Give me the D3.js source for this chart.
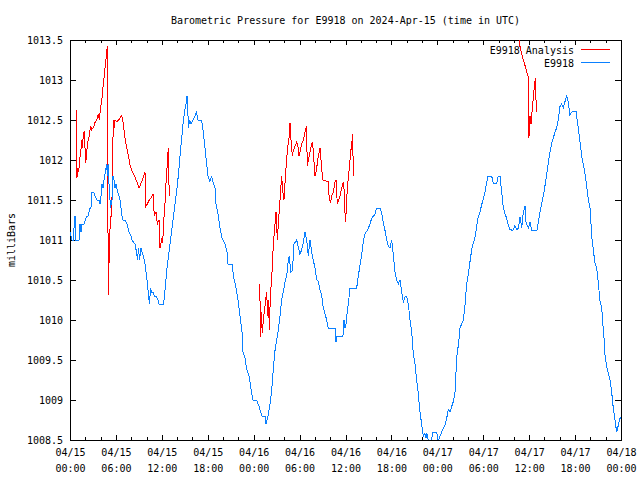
<!DOCTYPE html>
<html>
<head>
<meta charset="utf-8">
<script src="https://cdn.jsdelivr.net/npm/d3@7"></script>
<style>
  html, body { margin: 0; padding: 0; background: #fff; }
  svg { display: block; }
  text { font-family: "DejaVu Sans Mono", "Liberation Mono", monospace; font-size: 10px; fill: #000; }
</style>
</head>
<body>
<svg id="chart" width="640" height="480"></svg>
<script>
// ---------------- DATA ----------------
const chartTitle = "Barometric Pressure for E9918 on 2024-Apr-15 (time in UTC)";
const yAxisLabel = "milliBars";
const seriesNames = ["E9918 Analysis", "E9918"];
const seriesColors = ["#ff0000", "#0a80ff"];

// x: hours since 2024-04-15 00:00 UTC
const xTickHours = [0, 6, 12, 18, 24, 30, 36, 42, 48, 54, 60, 66, 72];
const xTickDates = ["04/15","04/15","04/15","04/15","04/16","04/16","04/16","04/16","04/17","04/17","04/17","04/17","04/18"];
const xTickTimes = ["00:00","06:00","12:00","18:00","00:00","06:00","12:00","18:00","00:00","06:00","12:00","18:00","00:00"];
const xMinorHours = [2,4,8,10,14,16,20,22,26,28,32,34,38,40,44,46,50,52,56,58,62,64,68,70];
const yTickValues = [1008.5, 1009, 1009.5, 1010, 1010.5, 1011, 1011.5, 1012, 1012.5, 1013, 1013.5];
const yTickLabels = ["1008.5","1009","1009.5","1010","1010.5","1011","1011.5","1012","1012.5","1013","1013.5"];

// E9918 observations
const obsHours = [0.00,0.13,0.26,0.46,0.59,0.72,0.78,1.18,1.31,1.44,1.57,1.83,2.16,2.35,2.61,2.74,2.87,3.07,3.27,3.53,3.79,3.92,4.05,4.18,4.31,4.51,4.64,4.77,4.90,4.97,5.10,5.23,5.29,5.49,5.62,5.75,5.88,6.01,6.21,6.40,6.53,6.66,6.79,6.93,7.19,7.45,7.71,7.97,8.10,8.49,8.69,8.82,8.95,9.08,9.28,9.41,9.60,9.80,10.00,10.13,10.26,10.39,10.52,10.65,10.85,11.04,11.24,11.50,11.63,12.22,12.35,12.54,12.67,12.87,13.07,13.26,13.46,13.66,13.85,14.05,14.24,14.37,14.57,14.77,14.96,15.16,15.29,15.42,15.48,15.61,15.81,16.07,16.33,16.53,16.73,17.18,17.38,17.64,17.84,18.03,18.29,18.49,18.69,18.95,19.08,19.34,19.60,19.86,20.25,20.52,20.65,21.17,21.36,21.69,21.95,22.21,22.48,22.61,22.87,23.06,23.39,23.72,23.91,24.37,24.70,25.09,25.48,25.61,25.87,26.13,26.33,26.46,26.57,26.79,27.01,27.22,27.44,27.66,27.87,28.09,28.31,28.53,28.66,28.84,29.07,29.27,29.62,29.86,30.05,30.28,30.48,30.71,30.93,31.14,31.36,31.58,31.79,32.01,32.24,32.45,32.67,32.89,33.10,33.32,33.54,33.75,34.63,34.76,34.89,35.67,35.80,35.93,36.07,36.23,36.37,36.59,37.46,37.67,37.89,38.12,38.33,38.55,38.87,39.20,39.42,39.63,39.85,40.07,40.51,40.73,40.94,41.16,41.38,41.59,41.81,42.04,42.25,42.47,42.69,42.90,43.12,43.34,43.56,43.77,44.00,44.21,44.43,44.65,44.86,45.08,45.30,45.51,45.73,45.95,46.17,46.39,46.52,46.65,46.85,47.04,47.24,47.43,47.92,48.13,48.35,48.57,48.78,49.00,49.22,49.43,49.65,49.88,50.09,50.31,50.44,50.61,50.74,50.96,51.39,51.61,51.83,52.05,52.27,52.49,52.70,52.92,53.14,53.35,53.57,53.79,54.01,54.23,54.45,54.62,55.10,55.31,55.76,55.96,56.19,56.41,56.62,56.84,57.06,57.27,57.49,57.89,58.15,58.41,58.61,58.80,59.03,59.23,59.46,59.59,59.89,60.11,60.33,60.76,61.02,61.19,61.41,61.64,61.85,62.07,62.29,62.50,62.72,62.95,63.15,63.37,63.59,63.81,64.03,64.25,64.46,64.68,64.90,65.11,65.33,65.56,66.12,66.21,66.42,66.64,66.86,67.07,67.29,67.51,67.72,67.95,68.04,68.17,68.38,68.60,68.82,69.03,69.26,69.48,69.61,69.78,69.91,70.13,70.34,70.56,70.78,70.99,71.21,71.43,71.64,71.86,71.99];
const obsPressure = [1011.1,1011.05,1011.0,1011.0,1011.3,1011.3,1011.0,1011.0,1011.2,1011.1,1011.2,1011.2,1011.3,1011.3,1011.4,1011.4,1011.6,1011.6,1011.55,1011.5,1011.5,1011.45,1011.55,1011.7,1011.65,1011.8,1011.85,1011.95,1011.8,1011.95,1011.7,1011.5,1011.4,1011.5,1011.8,1011.75,1011.65,1011.7,1011.6,1011.55,1011.5,1011.4,1011.3,1011.25,1011.25,1011.2,1011.1,1011.05,1011.0,1010.95,1010.85,1010.75,1010.9,1010.75,1010.9,1010.85,1010.8,1010.7,1010.55,1010.45,1010.3,1010.2,1010.4,1010.35,1010.35,1010.3,1010.3,1010.25,1010.2,1010.2,1010.3,1010.5,1010.65,1010.8,1010.95,1011.1,1011.25,1011.4,1011.55,1011.7,1011.9,1012.05,1012.25,1012.45,1012.6,1012.7,1012.8,1012.55,1012.4,1012.5,1012.45,1012.5,1012.55,1012.6,1012.5,1012.5,1012.38,1012.15,1011.97,1011.8,1011.73,1011.8,1011.72,1011.65,1011.45,1011.33,1011.15,1011.03,1010.95,1010.85,1010.7,1010.7,1010.55,1010.4,1010.25,1010.05,1009.85,1009.6,1009.52,1009.4,1009.3,1009.1,1009.0,1009.0,1008.92,1008.8,1008.8,1008.7,1008.8,1008.95,1009.1,1009.25,1009.4,1009.62,1009.75,1009.88,1010.05,1010.25,1010.35,1010.47,1010.55,1010.75,1010.8,1010.6,1010.62,1010.95,1011.0,1010.9,1010.82,1010.88,1010.96,1011.1,1011.0,1010.8,1011.0,1010.85,1010.75,1010.65,1010.5,1010.48,1010.38,1010.3,1010.15,1010.08,1010.0,1009.9,1009.9,1009.72,1009.8,1009.8,1010.0,1009.9,1009.95,1010.1,1010.2,1010.4,1010.4,1010.55,1010.68,1010.82,1010.98,1011.08,1011.12,1011.2,1011.27,1011.3,1011.32,1011.4,1011.4,1011.33,1011.22,1011.12,1011.0,1010.92,1010.9,1011.0,1010.82,1010.6,1010.5,1010.45,1010.5,1010.35,1010.22,1010.29,1010.29,1010.2,1010.0,1009.85,1009.58,1009.45,1009.25,1009.08,1008.85,1008.7,1008.55,1008.58,1008.52,1008.58,1008.48,1008.45,1008.5,1008.6,1008.6,1008.48,1008.55,1008.6,1008.65,1008.69,1008.77,1008.88,1008.85,1008.92,1008.98,1009.1,1009.35,1009.62,1009.67,1009.9,1010.0,1010.18,1010.45,1010.57,1010.73,1010.88,1010.96,1011.03,1011.17,1011.29,1011.35,1011.44,1011.51,1011.6,1011.72,1011.8,1011.8,1011.71,1011.71,1011.8,1011.8,1011.6,1011.4,1011.33,1011.27,1011.18,1011.13,1011.12,1011.18,1011.13,1011.15,1011.29,1011.15,1011.35,1011.42,1011.22,1011.15,1011.22,1011.12,1011.12,1011.12,1011.22,1011.35,1011.46,1011.55,1011.68,1011.82,1011.96,1012.1,1012.21,1012.27,1012.35,1012.4,1012.51,1012.67,1012.7,1012.65,1012.73,1012.8,1012.72,1012.56,1012.6,1012.61,1012.54,1012.4,1012.23,1012.05,1011.95,1011.83,1011.68,1011.52,1011.4,1011.27,1011.04,1010.88,1010.71,1010.65,1010.47,1010.23,1010.15,1009.98,1009.77,1009.56,1009.42,1009.34,1009.25,1009.1,1008.9,1008.75,1008.6,1008.68,1008.77,1008.78];

// E9918 Analysis (null = gap between runs)
const anaHours = [0.82,0.89,1.05,1.15,1.24,1.40,1.53,1.63,1.74,1.87,2.05,2.18,2.39,2.52,2.70,2.84,3.04,3.27,3.49,3.70,3.83,4.01,4.14,4.27,4.35,4.48,4.61,4.70,4.80,4.87,5.00,5.13,5.29,5.45,5.55,5.66,5.79,5.88,6.14,6.53,6.76,6.96,7.19,7.41,7.62,7.84,8.10,8.49,8.72,9.02,9.37,9.58,9.80,9.93,10.10,10.36,10.68,10.88,11.01,11.24,11.41,11.63,11.76,11.96,12.11,12.22,12.41,12.54,12.71,12.84,12.97,
  null,
  24.80,24.89,24.96,25.13,25.26,25.39,25.57,25.70,25.83,25.96,26.04,26.13,26.26,26.43,26.57,26.79,26.92,27.09,27.22,27.44,27.66,27.79,27.96,28.09,28.26,28.44,28.66,28.75,28.88,29.05,29.18,29.40,29.62,29.75,29.92,30.05,30.28,30.48,30.71,30.90,31.01,31.14,31.36,31.58,31.71,31.79,32.01,32.14,32.31,32.45,32.67,32.80,33.02,33.75,33.88,34.06,34.19,34.41,34.63,34.76,34.93,35.06,35.28,35.50,35.71,35.84,35.93,36.02,36.15,36.28,36.45,36.68,36.81,36.94,37.02,
  null,
  58.54,58.80,59.03,59.23,59.46,59.68,59.89,59.96,60.11,60.24,60.41,60.54,60.67,60.80,60.89,61.02];
const anaPressure = [1012.63,1011.77,1011.9,1011.85,1012.0,1012.08,1012.25,1012.15,1012.33,1012.35,1011.96,1012.1,1012.27,1012.3,1012.43,1012.38,1012.4,1012.47,1012.5,1012.58,1012.5,1012.66,1012.73,1012.86,1012.96,1013.05,1013.18,1013.26,1013.35,1013.42,1010.31,1010.85,1011.3,1011.3,1011.9,1012.5,1012.4,1012.5,1012.48,1012.52,1012.56,1012.46,1012.27,1012.15,1012.06,1011.94,1011.86,1011.79,1011.73,1011.65,1011.73,1011.79,1011.85,1011.42,1011.45,1011.5,1011.54,1011.58,1011.3,1011.35,1011.2,1011.25,1010.9,1011.0,1010.96,1011.2,1011.45,1011.7,1011.95,1012.15,1011.55,
  null,
  1010.45,1009.79,1010.1,1009.84,1010.0,1010.1,1010.25,1010.35,1010.05,1010.25,1009.87,1010.15,1010.4,1010.65,1010.95,1011.2,1011.35,1011.0,1011.2,1011.5,1011.8,1011.62,1011.5,1011.7,1011.95,1012.15,1012.3,1012.46,1012.25,1012.05,1012.12,1012.17,1012.22,1012.2,1012.05,1012.1,1012.2,1012.25,1012.35,1012.42,1011.92,1012.0,1012.1,1012.2,1012.22,1012.1,1011.8,1011.85,1011.95,1012.05,1012.15,1012.0,1011.75,1011.73,1011.5,1011.47,1011.55,1011.6,1011.72,1011.75,1011.45,1011.48,1011.55,1011.65,1011.73,1011.6,1011.35,1011.23,1011.5,1011.7,1011.85,1012.1,1012.2,1012.33,1011.8,
  null,
  1013.6,1013.42,1013.33,1013.25,1013.18,1013.1,1013.04,1012.27,1012.55,1012.45,1012.65,1012.77,1012.92,1013.02,1012.75,1012.6];

// ---------------- CHART ----------------
const W = 640, H = 480;
const L = 70, R = 621, T = 40, B = 440;
const svg = d3.select("#chart");

const x = d3.scaleLinear().domain([0, 72]).range([L, R]);
const y = d3.scaleLinear().domain([1008.5, 1013.5]).range([B, T]);

svg.append("defs").append("clipPath").attr("id", "plotclip")
  .append("rect").attr("x", L).attr("y", T).attr("width", R - L).attr("height", B - T);

// title
svg.append("text").attr("x", (L + R) / 2).attr("y", 24).attr("text-anchor", "middle").text(chartTitle);

// y label
svg.append("text").attr("transform", "translate(15,240) rotate(-90)")
  .attr("text-anchor", "middle").text(yAxisLabel);

function styleAxis(g) {
  g.select(".domain").remove();
  g.selectAll("line").attr("stroke", "#000").attr("shape-rendering", "crispEdges");
  g.selectAll("text").style("font-family", "'DejaVu Sans Mono', monospace").style("font-size", "10px").attr("fill", "#000");
}

// bottom major
const xb = svg.append("g").attr("transform", `translate(0,${B})`)
  .call(d3.axisBottom(x).tickValues(xTickHours).tickSizeInner(-5).tickSizeOuter(0).tickPadding(8).tickFormat(""))
  .call(styleAxis);
xb.selectAll(".tick text").each(function (d, i) {
  const t = d3.select(this);
  t.attr("dy", null).attr("y", 15.5);
  t.append("tspan").attr("x", 0).attr("dy", 0).text(xTickDates[i]);
  t.append("tspan").attr("x", 0).attr("dy", 16).text(xTickTimes[i]);
});
// bottom minor
svg.append("g").attr("transform", `translate(0,${B})`)
  .call(d3.axisBottom(x).tickValues(xMinorHours).tickSizeInner(-3).tickSizeOuter(0).tickFormat(""))
  .call(styleAxis);
// top major / minor
svg.append("g").attr("transform", `translate(0,${T})`)
  .call(d3.axisTop(x).tickValues(xTickHours).tickSizeInner(-5).tickSizeOuter(0).tickFormat(""))
  .call(styleAxis);
svg.append("g").attr("transform", `translate(0,${T})`)
  .call(d3.axisTop(x).tickValues(xMinorHours).tickSizeInner(-3).tickSizeOuter(0).tickFormat(""))
  .call(styleAxis);
// left
svg.append("g").attr("transform", `translate(${L},0)`)
  .call(d3.axisLeft(y).tickValues(yTickValues).tickSizeInner(-6).tickSizeOuter(0).tickPadding(7)
    .tickFormat((d, i) => yTickLabels[i]))
  .call(styleAxis);
// right
svg.append("g").attr("transform", `translate(${R},0)`)
  .call(d3.axisRight(y).tickValues(yTickValues).tickSizeInner(-6).tickSizeOuter(0).tickFormat(""))
  .call(styleAxis);

// border
svg.append("rect").attr("x", L).attr("y", T).attr("width", R - L).attr("height", B - T)
  .attr("fill", "none").attr("stroke", "#000").attr("shape-rendering", "crispEdges");

// series
const plot = svg.append("g").attr("clip-path", "url(#plotclip)");
const anaData = anaHours.map((h, i) => ({ h, v: anaPressure[i] }));
const obsData = obsHours.map((h, i) => ({ h, v: obsPressure[i] }));
const line = d3.line().defined(d => d.h != null && d.v != null).x(d => x(d.h)).y(d => y(d.v));

plot.append("path").datum(anaData).attr("d", line)
  .attr("fill", "none").attr("stroke", seriesColors[0]).attr("stroke-width", 1)
  .attr("shape-rendering", "crispEdges");
plot.append("path").datum(obsData).attr("d", line)
  .attr("fill", "none").attr("stroke", seriesColors[1]).attr("stroke-width", 1)
  .attr("shape-rendering", "crispEdges");

// legend
const legY = [50, 63];
seriesNames.forEach((name, i) => {
  svg.append("text").attr("x", 574).attr("y", legY[i] + 4).attr("text-anchor", "end").text(name);
  svg.append("line").attr("x1", 581).attr("x2", 610).attr("y1", legY[i] - 0.5).attr("y2", legY[i] - 0.5)
    .attr("stroke", seriesColors[i]).attr("stroke-width", 1).attr("shape-rendering", "crispEdges");
});
</script>
</body>
</html>
